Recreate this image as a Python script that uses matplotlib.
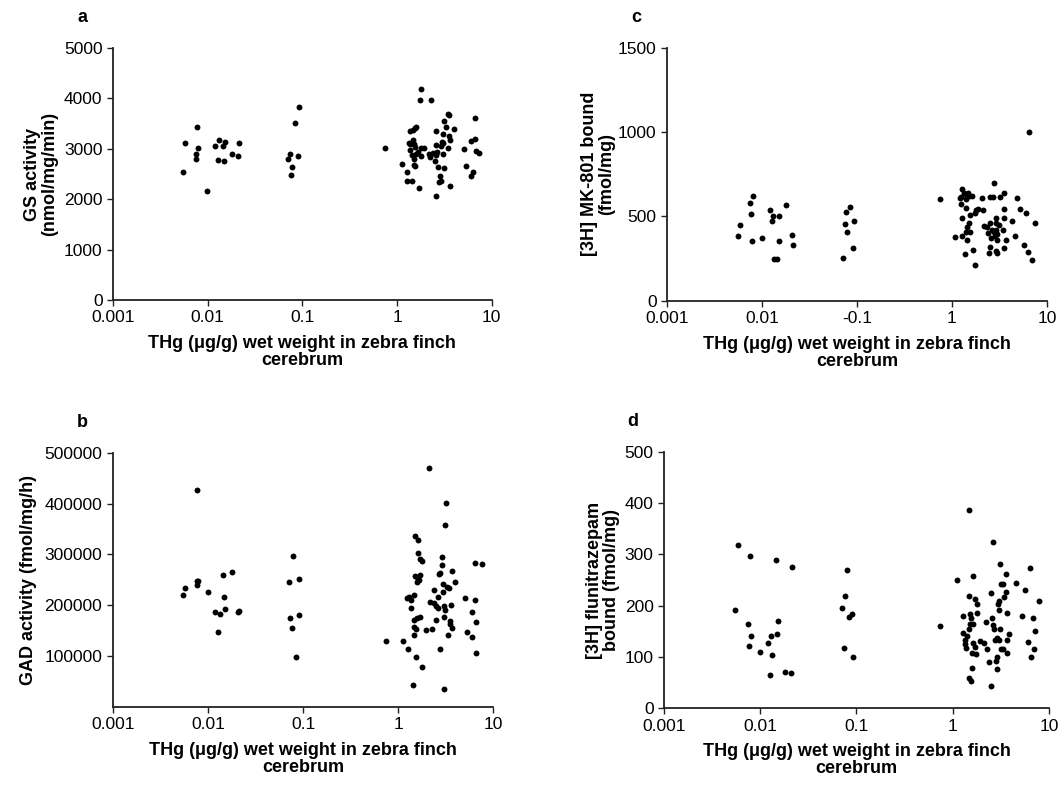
import matplotlib
matplotlib.use('Agg')
import matplotlib.pyplot as plt
from matplotlib.ticker import NullLocator

plt.rcParams['font.family'] = ['Liberation Sans', 'DejaVu Sans']

# x = THg (ug/g) in cerebrum, y = measured value
# a: GS activity
gs_x = [0.0055, 0.0058, 0.0078, 0.0079, 0.0075, 0.0076, 0.0099, 0.0120, 0.0133, 0.0144, 0.0152, 0.0128, 0.0149, 0.0179, 0.0207, 0.0212,
        0.0918, 0.0846, 0.0707, 0.0737, 0.0895, 0.0785, 0.0760,
        0.74, 1.78, 1.74, 2.27, 3.44, 3.56, 3.10, 3.33, 3.95, 2.61, 3.05, 3.53, 3.67, 2.95, 3.08, 2.59, 3.42, 3.03, 2.72, 3.15,
        2.81, 2.88, 2.79, 3.67, 2.55, 1.72, 1.29, 1.29, 1.44, 1.13, 1.55, 1.50, 1.36, 1.48, 1.54, 1.59, 1.33, 1.38, 1.49, 1.51,
        1.36, 1.45, 1.50, 1.60, 1.66, 1.77, 1.92, 1.78, 2.15, 2.22, 2.41, 2.49, 2.61, 2.67, 2.92, 5.08, 6.59, 5.98, 6.64, 6.75,
        7.32, 5.30, 6.29, 6.09, 1.53]
gs_y = [2530, 3110, 3435, 3010, 2900, 2800, 2160, 3045, 3170, 3050, 3140, 2770, 2750, 2895, 2865, 3120,
        3825, 3515, 2795, 2895, 2865, 2630, 2470,
        3020, 4185, 3970, 3965, 3695, 3660, 3555, 3440, 3390, 3345, 3290, 3245, 3180, 3140, 3110, 3070, 3010, 2895, 2630, 2615,
        2450, 2370, 2345, 2270, 2065, 2220, 2535, 2370, 2370, 2695, 2650, 2670, 3345, 3375, 3410, 3430, 3110, 3100, 3180, 3090,
        2980, 2880, 2795, 2900, 2945, 3010, 3010, 2860, 2900, 2845, 2915, 2760, 2880, 2935, 3045, 2990, 3610, 3145, 3195, 2960,
        2915, 2650, 2530, 2450, 3030]

# b: GAD activity
gad_x = [0.0055, 0.0058, 0.0077, 0.0076, 0.0079, 0.0076, 0.0100, 0.0144, 0.0181, 0.0149, 0.0120, 0.0133, 0.0152, 0.0129, 0.0207, 0.0212,
         0.0789, 0.0711, 0.0898, 0.0734, 0.0912, 0.0764, 0.0841,
         0.74, 1.13, 1.27, 1.53, 1.79, 1.44, 3.06, 2.11, 3.14, 3.09, 1.50, 1.60, 1.62, 1.70, 1.77, 1.50, 1.58, 1.71, 1.58, 1.66,
         2.87, 2.85, 2.74, 2.65, 3.66, 3.93, 2.97, 3.27, 3.38, 2.99, 2.37, 2.61, 1.30, 1.36, 1.47, 2.18, 2.39, 2.52, 2.61, 3.06,
         3.09, 3.60, 1.36, 2.52, 3.01, 3.48, 3.54, 3.66, 3.32, 1.45, 1.58, 1.69, 1.48, 1.53, 1.94, 2.24, 1.45, 2.78, 5.01, 5.93,
         6.53, 5.26, 5.93, 6.64, 6.48, 6.43, 1.23, 7.6]
gad_y = [219000, 233600, 427200, 248000, 246700, 238900, 226400, 259900, 264400, 216500, 186400, 182400, 191600, 147600, 186400, 189000,
         295900, 246100, 252000, 175200, 181100, 155500, 98400,
         129300, 129300, 112900, 97800, 78100, 43300, 35400, 470500, 400300, 358300, 336000, 328100, 303200, 291400, 286800, 257200, 254600, 258500, 246100, 249400,
         294600, 278900, 262500, 260500, 267700, 246100, 241500, 236200, 234300, 226400, 229000, 216500, 215200, 210000, 219800, 205400, 203400, 198200, 193600, 198800,
         190300, 200800, 193600, 170600, 175900, 168600, 162100, 154200, 140400, 170600, 173900, 177200, 156200, 152200, 150900, 152900, 141100, 112900, 213300, 185700,
         167300, 146300, 137800, 105000, 210000, 282200, 213300, 281000]

# c: [3H] MK-801 bound
mk_x = [0.00554, 0.00582, 0.00754, 0.00798, 0.00766, 0.00778, 0.0100, 0.0121, 0.01265, 0.0131, 0.0150, 0.0180, 0.0152, 0.0133, 0.0144, 0.0208, 0.0212,
        0.0838, 0.0760, 0.0742, 0.0922, 0.0791, 0.0899, 0.0713,
        0.74, 1.08, 2.77, 1.29, 1.34, 1.25, 1.21, 1.40, 1.47, 1.53, 1.62, 1.40, 1.25, 1.40, 1.79, 1.88, 2.10, 2.07, 2.49, 2.68,
        3.17, 3.53, 1.73, 1.56, 1.29, 1.50, 1.45, 1.40, 1.55, 1.29, 1.44, 1.66, 1.38, 1.73, 3.55, 3.53, 2.90, 2.17, 2.32, 2.53,
        2.90, 3.15, 2.39, 2.64, 2.77, 2.90, 2.81, 3.00, 2.60, 3.00, 3.41, 3.73, 3.53, 2.53, 2.90, 2.43, 2.95,
        4.3, 4.8, 5.2, 6.0, 7.5, 4.6, 5.8, 6.3, 7.0, 6.5]
mk_y = [383, 448, 580, 620, 513, 351, 369, 537, 474, 501, 503, 567, 353, 247, 245, 391, 328,
        555, 525, 452, 474, 405, 310, 251,
        600, 375, 699, 663, 640, 616, 606, 632, 640, 620, 622, 602, 572, 547, 537, 541, 537, 606, 612, 616,
        612, 636, 521, 505, 488, 462, 438, 409, 405, 383, 359, 300, 276, 211, 543, 488, 488, 442, 438, 462,
        458, 448, 399, 418, 409, 418, 383, 395, 369, 359, 418, 359, 310, 316, 296, 284, 280,
        470, 610, 545, 520, 460, 380, 330, 290, 240, 1000]

# d: [3H] flunitrazepam bound
fl_x = [0.00583, 0.00551, 0.00783, 0.00752, 0.00796, 0.00759, 0.0100, 0.01445, 0.0152, 0.0151, 0.0130, 0.0120, 0.0134, 0.0127, 0.0212, 0.0181, 0.0209,
        0.0791, 0.0766, 0.0713, 0.0836, 0.0905, 0.0741, 0.0926,
        0.743, 1.12, 1.49, 1.61, 2.60, 3.08, 3.55, 3.21, 3.31, 3.55, 3.42, 2.48, 3.01, 2.98, 3.03, 3.70, 1.47, 1.72, 1.78, 1.80,
        1.51, 1.56, 1.29, 1.51, 1.64, 1.47, 1.29, 1.42, 1.35, 1.35, 1.38, 1.64, 1.72, 1.59, 1.75, 1.92, 2.12, 2.22, 2.58, 2.60,
        2.69, 3.10, 2.73, 2.86, 3.01, 2.27, 3.21, 3.31, 3.67, 3.64, 2.86, 2.84, 2.37, 2.86, 1.59, 1.49, 1.55, 2.52, 3.88,
        4.5, 5.2, 6.3, 7.8, 6.8, 5.6, 7.2, 6.0, 7.0, 6.5]
fl_y = [319, 192, 296, 165, 140, 121, 109, 288, 171, 144, 141, 127, 104, 64, 276, 71, 68,
        270, 219, 195, 177, 184, 118, 99,
        161, 250, 386, 258, 324, 281, 262, 242, 242, 227, 216, 225, 209, 203, 191, 185, 218, 212, 203, 186,
        184, 175, 179, 164, 164, 154, 147, 141, 134, 125, 117, 127, 119, 108, 106, 131, 127, 169, 175, 162,
        154, 154, 134, 136, 133, 115, 115, 115, 107, 133, 99, 93, 90, 76, 79, 60, 54, 44, 145,
        245, 180, 273, 210, 175, 230, 150, 130, 115, 100]

x_ticks = [0.001, 0.01, 0.1, 1, 10]
x_labels = ['0.001', '0.01', '0.1', '1', '10']
x_labels_c = ['0.001', '0.01', '-0.1', '1', '10']
x_title = 'THg (\u03bcg/g) wet weight in zebra finch\ncerebrum'

fig = plt.figure(figsize=(10.62, 7.98), dpi=100)

panels = [
    # letter, rect, x, y, ylabel, yticks, yticklabels, ymax, xlabels, ylabelpad
    ('a', [0.1064, 0.6241, 0.3566, 0.3158], gs_x, gs_y, 'GS activity\n(nmol/mg/min)',
     [0, 1000, 2000, 3000, 4000, 5000], ['0', '1000', '2000', '3000', '4000', '5000'], 5000, x_labels, 4),
    ('b', [0.1061, 0.1144, 0.3585, 0.3183], gad_x, gad_y, 'GAD activity (fmol/mg/h)',
     [100000, 200000, 300000, 400000, 500000], ['100000', '200000', '300000', '400000', '500000'], 500000, x_labels, 5),
    ('c', [0.6280, 0.6234, 0.3578, 0.3170], mk_x, mk_y, '[3H] MK-801 bound\n(fmol/mg)',
     [0, 500, 1000, 1500], ['0', '500', '1000', '1500'], 1500, x_labels_c, 2),
    ('d', [0.6252, 0.1124, 0.3625, 0.3216], fl_x, fl_y, '[3H] flunitrazepam\nbound (fmol/mg)',
     [0, 100, 200, 300, 400, 500], ['0', '100', '200', '300', '400', '500'], 500, x_labels, 3),
]

for letter, rect, xs, ys, ylab, yt, ytl, ymax, xtl, ypad in panels:
    ax = fig.add_axes(rect)
    ax.scatter(xs, ys, s=18, c='black', linewidths=0, clip_on=False, zorder=3)
    ax.set_xscale('log')
    ax.set_xlim(0.001, 10)
    ax.set_ylim(0, ymax)
    ax.set_xticks(x_ticks)
    ax.set_xticklabels(xtl)
    ax.xaxis.set_minor_locator(NullLocator())
    ax.set_yticks(yt)
    ax.set_yticklabels(ytl)
    for s in ['top', 'right']:
        ax.spines[s].set_visible(False)
    for s in ['left', 'bottom']:
        ax.spines[s].set_linewidth(1.3)
        ax.spines[s].set_color('#222222')
    ax.tick_params(direction='out', length=4, width=1, labelsize=12.5, colors='#222222', labelcolor='black')
    ax.set_xlabel(x_title, fontsize=13, fontweight='bold', labelpad=7, linespacing=1.0)
    ax.set_ylabel(ylab, fontsize=13, fontweight='bold', labelpad=ypad, linespacing=1.0)
    ax.patch.set_alpha(0)
    fig.text(rect[0] - 0.029, rect[1] + rect[3] + 0.038, letter, fontsize=13, fontweight='bold', ha='center', va='center')

fig.savefig('out.png', dpi=100)
